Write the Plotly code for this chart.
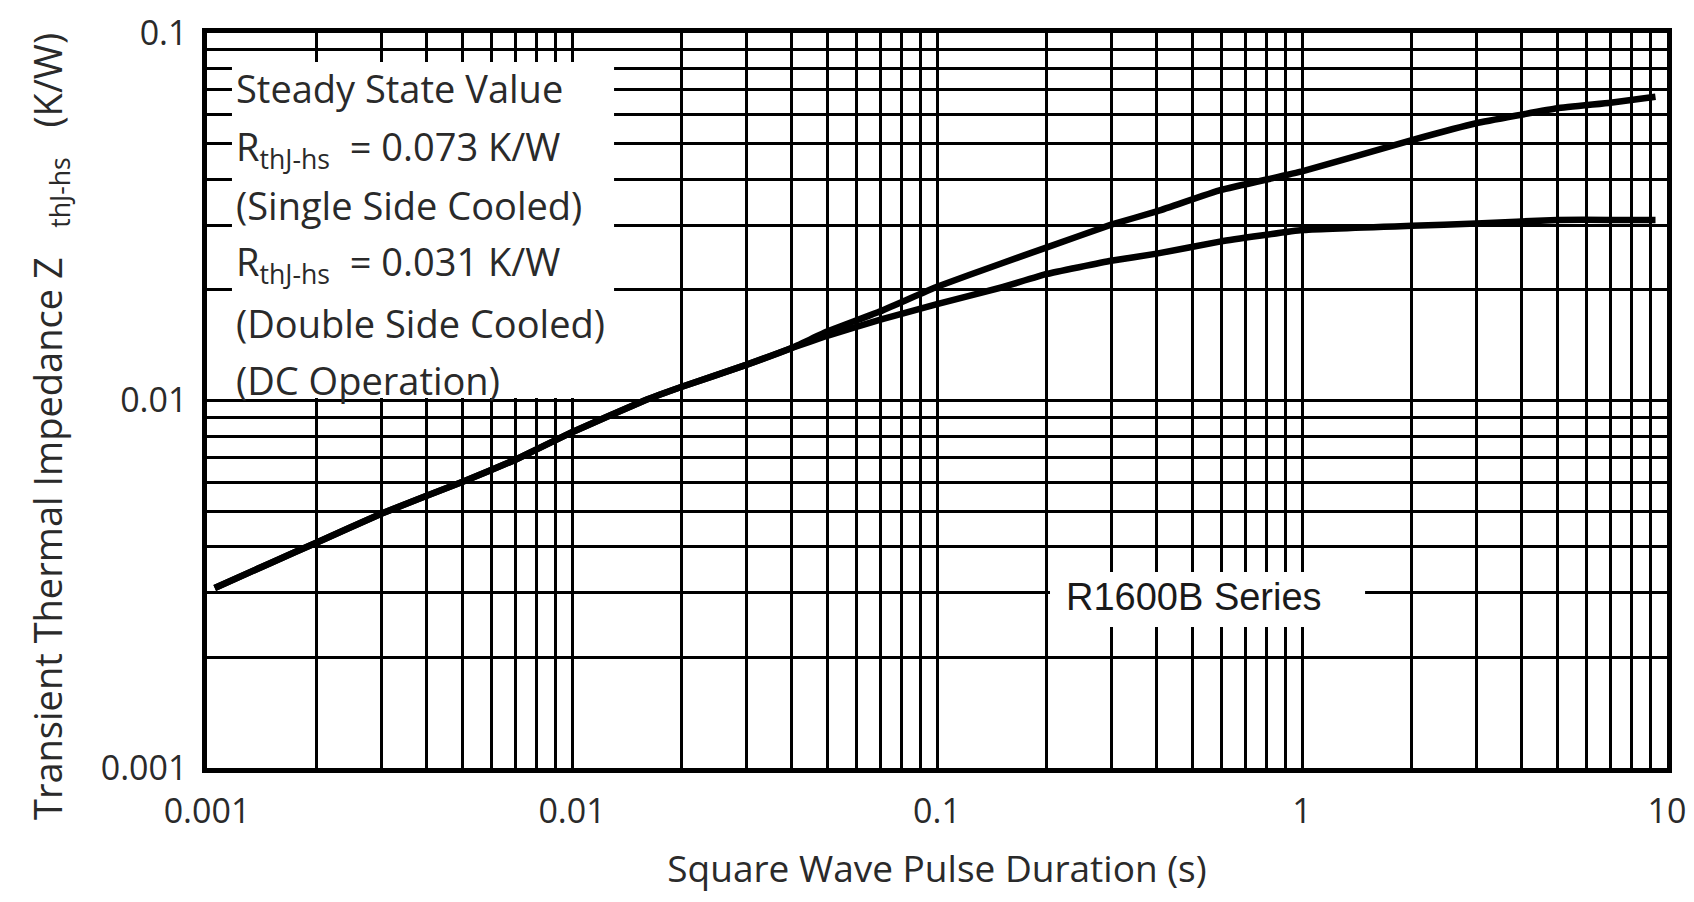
import plotly.graph_objects as go

# Pulse durations (s) and transient thermal impedance (K/W)
pulse_s = [0.00105, 0.0015, 0.002, 0.003, 0.005, 0.007, 0.01, 0.0158, 0.02, 0.03,
           0.04, 0.05, 0.07, 0.1, 0.15, 0.2, 0.3, 0.4, 0.6, 1.0, 2.0, 3.0, 5.0, 7.0, 9.3]
z_single = [0.00309, 0.00362, 0.00411, 0.00492, 0.0060, 0.0069, 0.0082, 0.0100,
            0.0109, 0.0125, 0.0139, 0.0154, 0.0175, 0.0204, 0.0236, 0.0261, 0.0301,
            0.0327, 0.0374, 0.0420, 0.0511, 0.0568, 0.0624, 0.0646, 0.0671]
z_double = [0.00309, 0.00362, 0.00411, 0.00492, 0.0060, 0.0069, 0.0082, 0.0100,
            0.0109, 0.0125, 0.0139, 0.0150, 0.0166, 0.0183, 0.0203, 0.0221, 0.0240,
            0.0251, 0.0271, 0.0291, 0.0299, 0.0303, 0.0310, 0.0310, 0.0310]

# Grid positions (1..9 per decade) and labels at decades
x_decades = [0.001, 0.01, 0.1, 1]
y_decades = [0.001, 0.01]
x_grid = [m * d for d in x_decades for m in range(1, 10)] + [10]
y_grid = [m * d for d in y_decades for m in range(1, 10)] + [0.1]
x_label_map = {0.001: "0.001", 0.01: "0.01", 0.1: "0.1", 1: "1", 10: "10"}
y_label_map = {0.001: "0.001", 0.01: "0.01", 0.1: "0.1"}
x_text = [x_label_map.get(round(v, 6), "") for v in x_grid]
y_text = [y_label_map.get(round(v, 6), "") for v in y_grid]

x_title = "Square Wave Pulse Duration (s)"
y_title = "Transient Thermal Impedance Z   <sub>thJ-hs</sub>   (K/W)"

legend_lines = [
    "Steady State Value",
    "R<sub>thJ-hs</sub>  = 0.073 K/W",
    "(Single Side Cooled)",
    "R<sub>thJ-hs</sub>  = 0.031 K/W",
    "(Double Side Cooled)",
    "(DC Operation)",
]
series_label = "R1600B Series"

FONT = "Open Sans"
TXT = "#2a2a2a"

fig = go.Figure()
for z in (z_single, z_double):
    fig.add_trace(go.Scatter(
        x=pulse_s, y=z, mode="lines",
        line=dict(color="black", width=6.5, shape="spline", smoothing=0.3),
        showlegend=False, hoverinfo="skip",
    ))

axis_common = dict(
    type="log", showgrid=True, gridcolor="black", gridwidth=3.2,
    showline=True, linecolor="black", linewidth=4.5, mirror=True,
    ticks="outside", tickcolor="rgba(0,0,0,0)",
    tickfont=dict(family=FONT, size=34, color=TXT),
    zeroline=False, automargin=False,
)

fig.update_xaxes(
    **axis_common, range=[-3, 1], ticklen=9,
    tickmode="array", tickvals=x_grid, ticktext=x_text,
    title=dict(text=x_title, font=dict(family=FONT, size=37, color=TXT), standoff=26),
)
fig.update_yaxes(
    **axis_common, range=[-3, -1], ticklen=8,
    tickmode="array", tickvals=y_grid, ticktext=y_text,
)

# Vertical axis title, placed as a rotated annotation
fig.add_annotation(text=y_title, xref="paper", yref="paper", x=-0.1075, y=0.464,
                   xanchor="center", yanchor="middle", textangle=-90, showarrow=False,
                   font=dict(family=FONT, size=38, color=TXT))

# White panels behind the text blocks
fig.add_shape(type="rect", xref="paper", yref="paper", layer="above",
              x0=0.0171, x1=0.2788, y0=0.5034, y1=0.9605,
              fillcolor="white", line=dict(width=0))
fig.add_shape(type="rect", xref="paper", yref="paper", layer="above",
              x0=0.5774, x1=0.7932, y0=0.1918, y1=0.2667,
              fillcolor="white", line=dict(width=0))

legend_y = [0.9252, 0.8435, 0.766, 0.687, 0.6054, 0.5279]
for txt, yy in zip(legend_lines, legend_y):
    fig.add_annotation(text=txt, xref="paper", yref="paper", x=0.0185, y=yy,
                       xanchor="left", yanchor="middle", showarrow=False,
                       font=dict(family=FONT, size=38, color=TXT))

fig.add_annotation(text=series_label, xref="paper", yref="paper", x=0.676, y=0.232,
                   xanchor="center", yanchor="middle", showarrow=False,
                   font=dict(family="Liberation Sans", size=38, color="#1a1a1a"))

fig.update_layout(
    width=1694, height=902,
    margin=dict(l=207, r=27, t=33, b=134),
    paper_bgcolor="white", plot_bgcolor="white",
)

fig.write_html("out.html")
